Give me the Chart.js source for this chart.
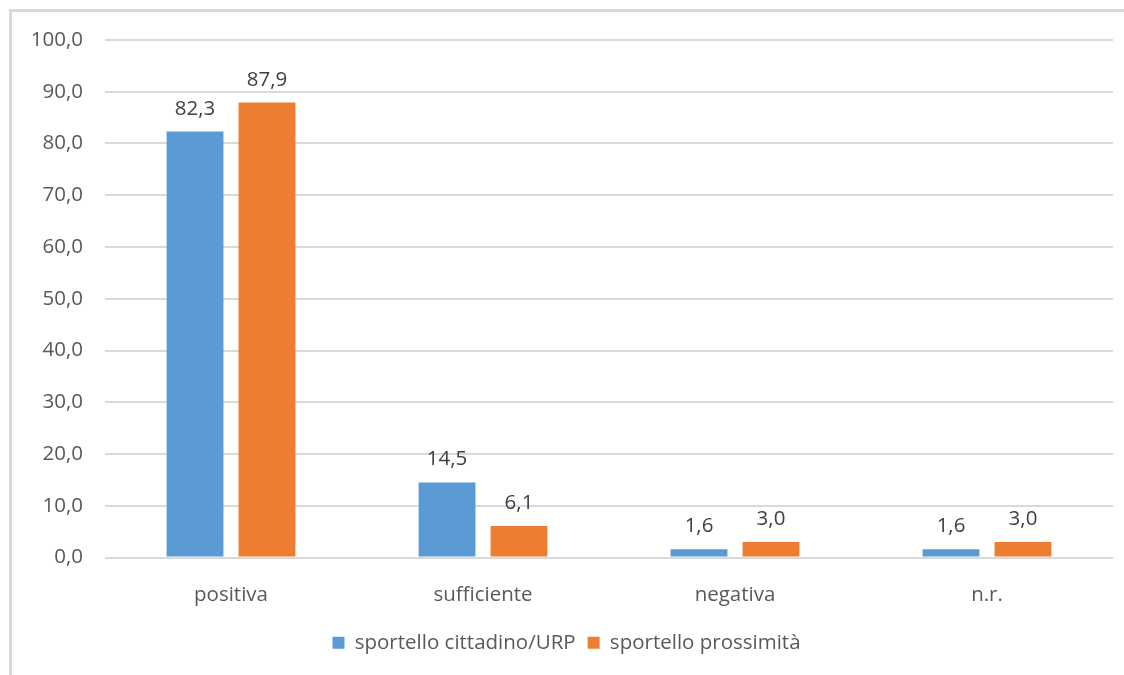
<!DOCTYPE html>
<html>
<head>
<meta charset="utf-8">
<script src="https://cdn.jsdelivr.net/npm/chart.js@4.4.0/dist/chart.umd.min.js"></script>
<style>
  html, body { margin: 0; padding: 0; background: #fff; }
  #frame {
    position: absolute; left: 9px; top: 9px; right: 0; bottom: 0;
    border-left: 3px solid #d9d9d9; border-top: 3px solid #d9d9d9;
  }
  #wrap { position: absolute; left: 0; top: 0; width: 1124px; height: 675px; }
</style>
</head>
<body>
<div id="frame"></div>
<div id="wrap"><canvas id="chart" width="1124" height="675"></canvas></div>
<script>
// categories and series
const categories = ['positiva', 'sufficiente', 'negativa', 'n.r.'];
const cittadinoUrp = [82.3, 14.5, 1.6, 1.6];
const prossimita = [87.9, 6.1, 3.0, 3.0];
const seriesNames = ['sportello cittadino/URP', 'sportello prossimità'];

const FONT = '"Open Sans", sans-serif';
const fmt = v => Number(v).toFixed(1).replace('.', ',');

// value labels drawn above each bar
const valueLabels = {
    id: 'valueLabels',
    afterDatasetsDraw(chart) {
        const ctx = chart.ctx;
        ctx.save();
        ctx.font = '20.5px ' + FONT;
        ctx.fillStyle = '#404040';
        ctx.textAlign = 'center';
        ctx.textBaseline = 'alphabetic';
        chart.data.datasets.forEach((ds, i) => {
            chart.getDatasetMeta(i).data.forEach((bar, j) => {
                ctx.fillText(fmt(ds.data[j]), bar.x, bar.y - 17);
            });
        });
        ctx.restore();
    }
};

new Chart(document.getElementById('chart'), {
    type: 'bar',
    data: {
        labels: categories,
        datasets: [
            {
                label: seriesNames[0],
                data: cittadinoUrp,
                backgroundColor: '#5b9bd5',
                categoryPercentage: 0.571,
                barPercentage: 0.79
            },
            {
                label: seriesNames[1],
                data: prossimita,
                backgroundColor: '#ed7d31',
                categoryPercentage: 0.571,
                barPercentage: 0.79
            }
        ]
    },
    options: {
        responsive: false,
        animation: false,
        devicePixelRatio: 1,
        layout: { padding: { left: 20, right: 11, top: 40, bottom: 12 } },
        scales: {
            y: {
                min: 0,
                max: 100,
                ticks: {
                    stepSize: 10,
                    padding: 22,
                    color: '#595959',
                    font: { family: FONT, size: 20.5 },
                    callback: v => fmt(v)
                },
                grid: { color: '#d9d9d9', lineWidth: 2, drawTicks: false },
                border: { display: false },
                afterFit: s => { s.width = 85; }
            },
            x: {
                ticks: {
                    padding: 17,
                    color: '#595959',
                    font: { family: FONT, size: 20.5 }
                },
                grid: { display: false },
                border: { display: false },
                afterFit: s => { s.height = 63; }
            }
        },
        plugins: {
            legend: {
                position: 'bottom',
                labels: {
                    boxWidth: 12,
                    boxHeight: 12,
                    padding: 12,
                    color: '#595959',
                    font: { family: FONT, size: 20.5 }
                }
            },
            tooltip: { enabled: false }
        }
    },
    plugins: [valueLabels]
});
</script>
</body>
</html>
